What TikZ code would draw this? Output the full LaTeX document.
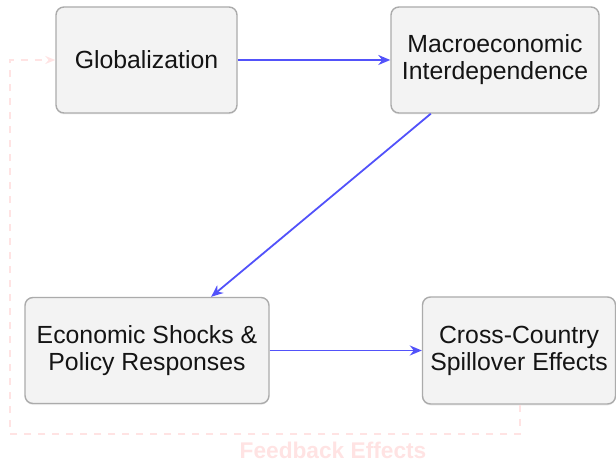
\documentclass[tikz,border=0pt]{standalone}
\usepackage{fontspec}
\setmainfont{Liberation Sans}
\usetikzlibrary{arrows.meta,shadows}

\definecolor{boxfill}{HTML}{F3F3F3}
\definecolor{boxline}{HTML}{ABABAB}
\definecolor{flow}{HTML}{5252FA}
\definecolor{feedback}{HTML}{FFE3E3}

\tikzset{
  stagebox/.style={draw=boxline, line width=1.4pt, fill=boxfill,
    rounded corners=8pt, align=center, inner sep=0pt,
    font=\fontsize{24.8}{27}\selectfont, text=black!92,
    drop shadow={opacity=0.12, shadow xshift=0pt, shadow yshift=-1.5pt}},
  flowarrow/.style={draw=flow, line width=1.8pt,
    -{Stealth[length=12pt, width=10pt]}},
  feedbackarrow/.style={draw=feedback, line width=1.6pt,
    dash pattern=on 7pt off 7pt,
    -{Stealth[length=10pt, width=8pt]}},
}

\begin{document}
\begin{tikzpicture}[x=1pt, y=-1pt]
  \useasboundingbox (0,0) rectangle (616,462);

  % stages
  \node[stagebox, minimum width=181pt, minimum height=106pt]
    (glob) at (146.5,60) {Globalization};
  \node[stagebox, minimum width=208pt, minimum height=106pt]
    (macro) at (495,60) {Macroeconomic\\Interdependence};
  \node[stagebox, minimum width=244pt, minimum height=106pt]
    (shock) at (147,350.5) {Economic Shocks \&\\Policy Responses};
  \node[stagebox, minimum width=193pt, minimum height=107pt]
    (spill) at (519,350.5) {Cross-Country\\Spillover Effects};

  % main chain
  \draw[flowarrow] (glob) -- (macro);
  \draw[flowarrow] (macro) -- (shock);
  \draw[flowarrow] (shock) -- (spill);

  % feedback loop back to the start
  \coordinate (fbR) at (520,434);
  \coordinate (fbL) at (10,434);
  \coordinate (fbT) at (10,60);
  \draw[feedbackarrow] (spill.south -| fbR) -- (fbR) -- (fbL) -- (fbT) -- (glob.west);
  \node[text=feedback, font=\bfseries\fontsize{22.7}{24}\selectfont]
    (fblabel) at (333,450) {Feedback Effects};
\end{tikzpicture}
\end{document}
